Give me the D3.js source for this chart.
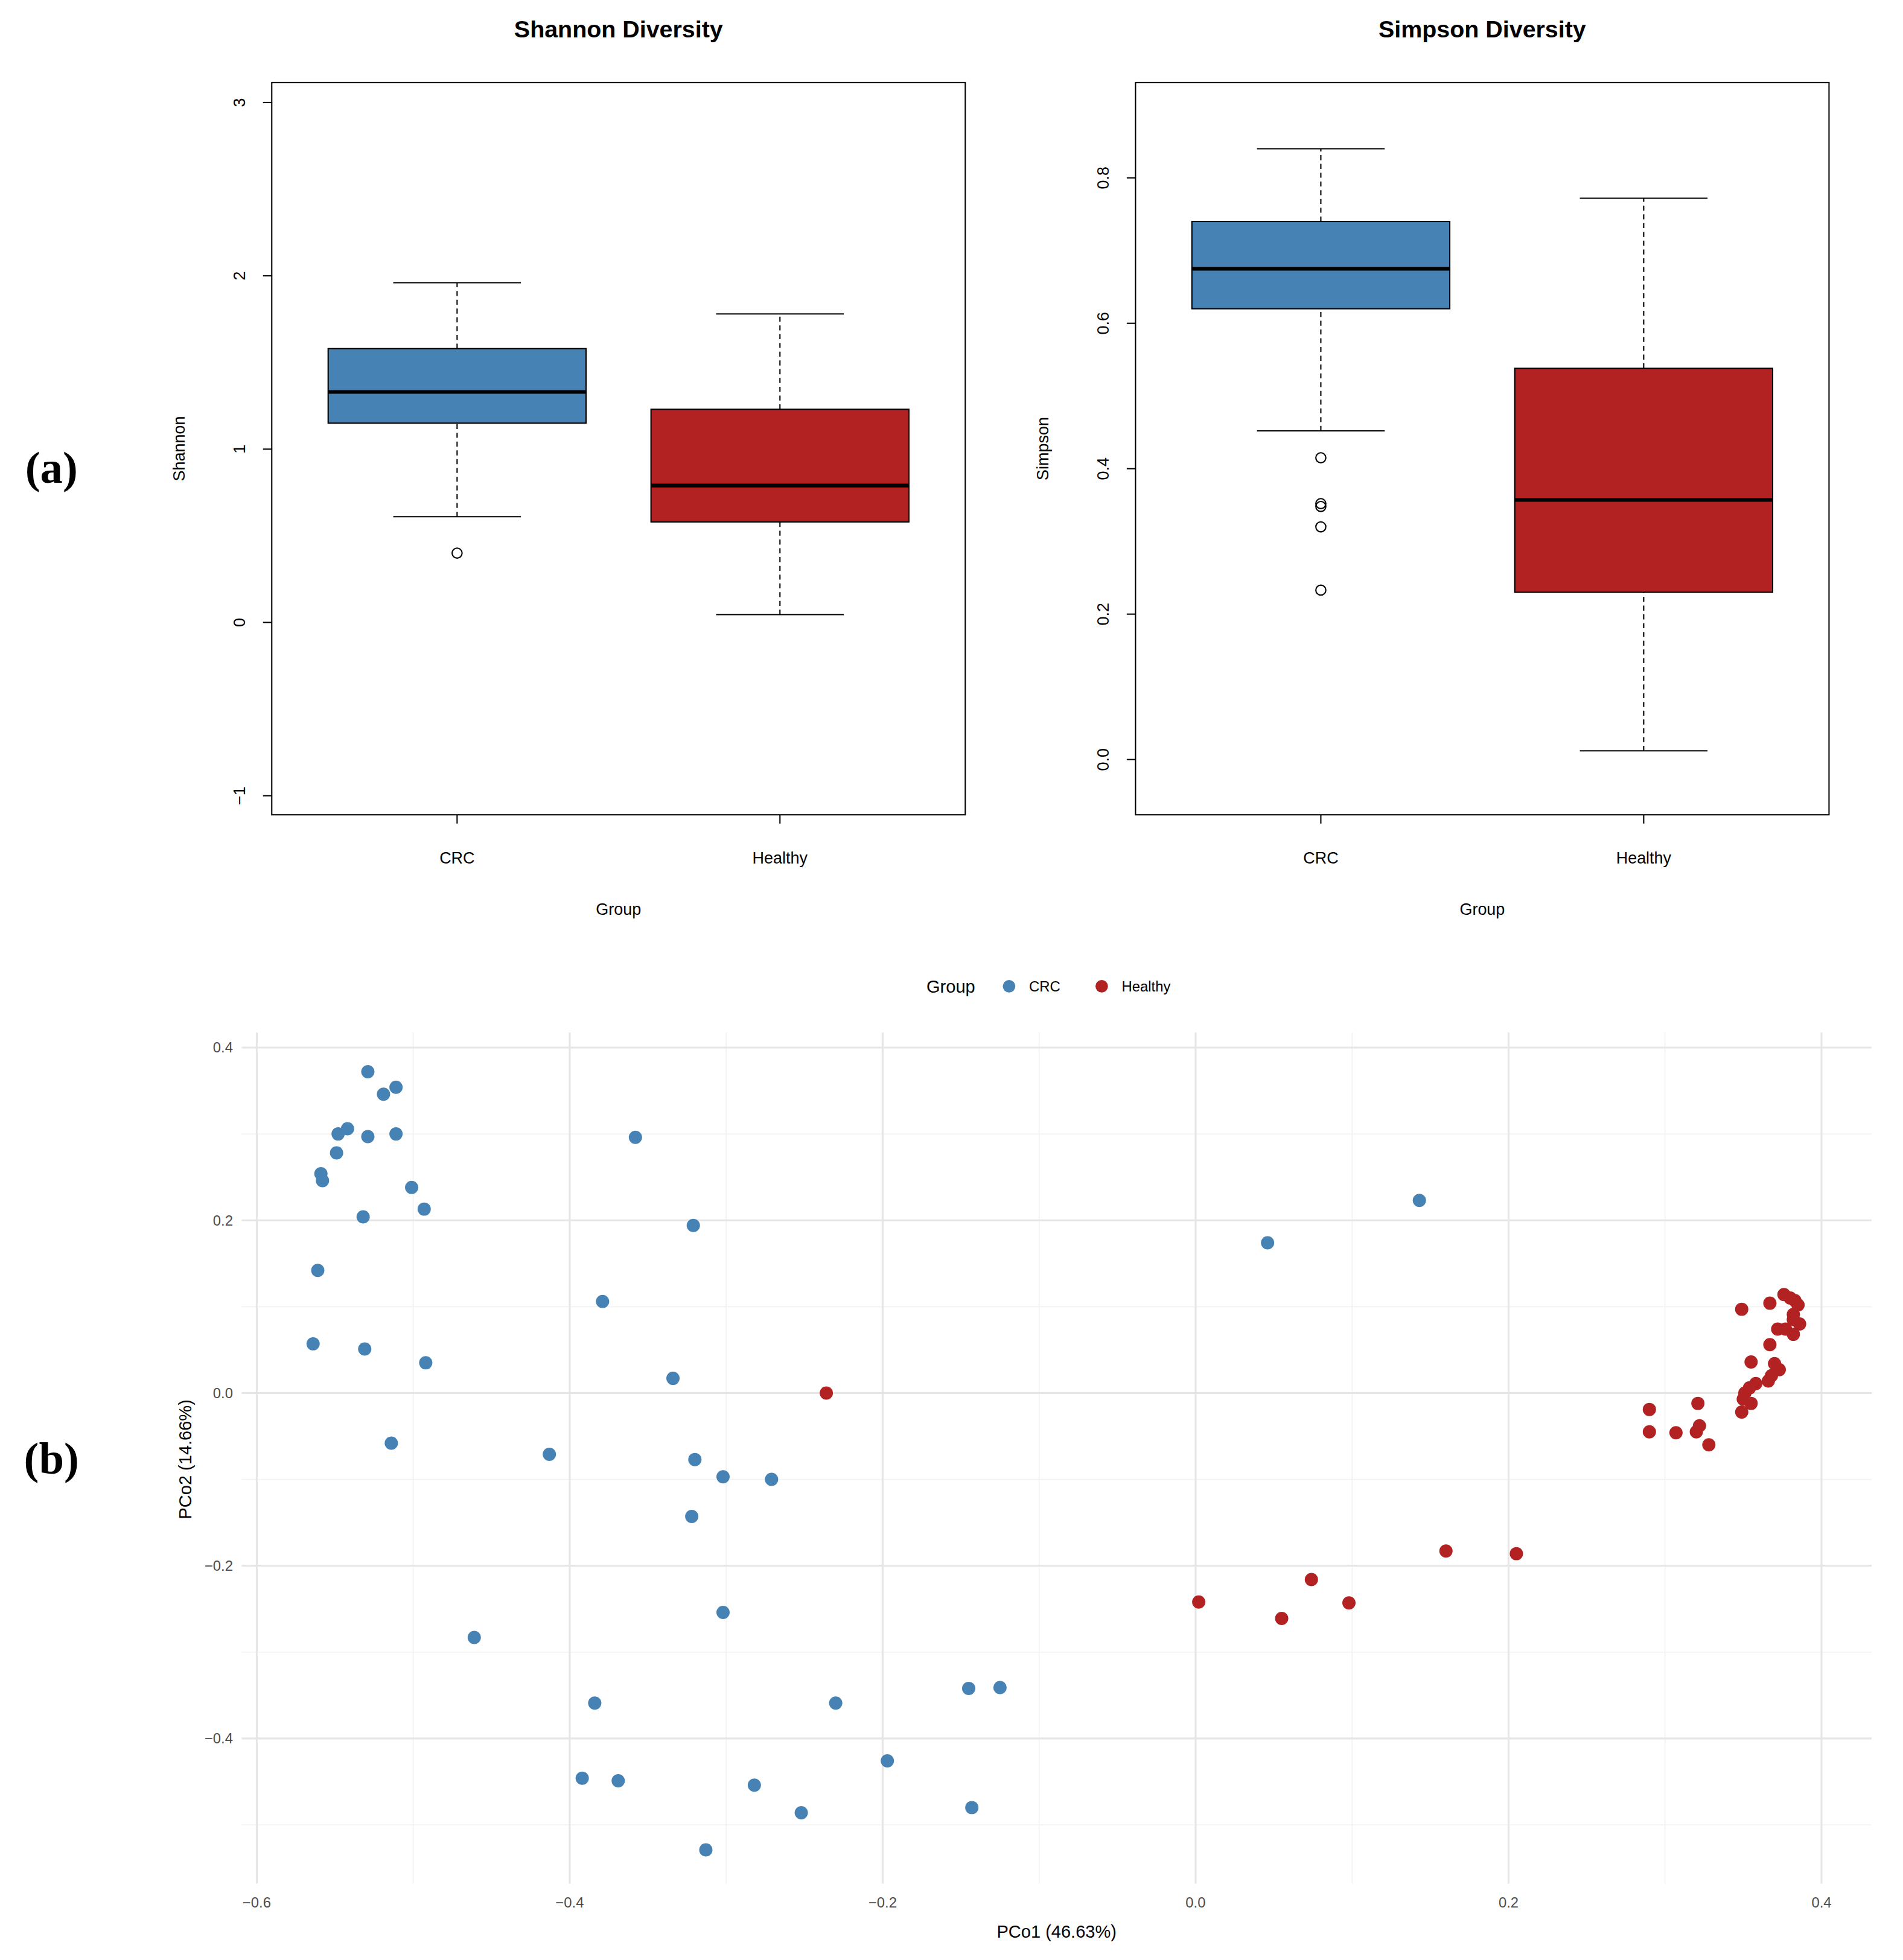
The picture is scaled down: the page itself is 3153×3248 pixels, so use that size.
<!DOCTYPE html>
<html><head><meta charset="utf-8">
<script src="https://cdn.jsdelivr.net/npm/d3@7"></script>
<style>body{margin:0;background:#fff}text{font-family:"Liberation Sans",Arial,sans-serif}</style>
</head><body>
<div id="chart"></div>
<script>
// box plot stats: [lowerWhisker, q1, median, q3, upperWhisker]
const groups = ["CRC", "Healthy"];
const shannonStats = [[0.61, 1.15, 1.33, 1.58, 1.96], [0.045, 0.58, 0.79, 1.23, 1.78]];
const shannonOutliers = [[0.40], []];
const simpsonStats = [[0.452, 0.62, 0.675, 0.74, 0.84], [0.012, 0.23, 0.357, 0.538, 0.772]];
const simpsonOutliers = [[0.415, 0.352, 0.348, 0.32, 0.233], []];
const shannonTicks = [-1, 0, 1, 2, 3];
const simpsonTicks = [0.0, 0.2, 0.4, 0.6, 0.8];

// PCoA points [PCo1, PCo2]
const crcPoints = [
  [-0.529,0.372],[-0.511,0.354],[-0.519,0.346],[-0.542,0.306],[-0.548,0.300],[-0.529,0.297],
  [-0.511,0.300],[-0.549,0.278],[-0.559,0.254],[-0.558,0.246],[-0.501,0.238],[-0.493,0.213],
  [-0.532,0.204],[-0.561,0.142],[-0.564,0.057],[-0.531,0.051],[-0.492,0.035],[-0.514,-0.058],
  [-0.358,0.296],[-0.321,0.194],[-0.379,0.106],[-0.334,0.017],[-0.413,-0.071],[-0.320,-0.077],
  [-0.302,-0.097],[-0.271,-0.100],[-0.322,-0.143],[-0.302,-0.254],[-0.461,-0.283],[-0.384,-0.359],
  [-0.230,-0.359],[-0.145,-0.342],[-0.125,-0.341],[-0.197,-0.426],[-0.392,-0.446],[-0.369,-0.449],
  [-0.282,-0.454],[-0.252,-0.486],[-0.143,-0.480],[-0.313,-0.529],[0.046,0.174],[0.143,0.223]
];
const healthyPoints = [
  [-0.236,0.000],[0.002,-0.242],[0.055,-0.261],[0.074,-0.216],[0.098,-0.243],[0.160,-0.183],[0.205,-0.186],
  [0.349,0.097],[0.367,0.104],[0.376,0.114],[0.380,0.110],[0.383,0.107],[0.385,0.102],[0.382,0.091],
  [0.386,0.080],[0.382,0.085],[0.372,0.074],[0.377,0.074],[0.382,0.068],[0.367,0.056],[0.355,0.036],
  [0.370,0.034],[0.373,0.027],[0.368,0.020],[0.366,0.014],[0.358,0.011],[0.354,0.006],[0.351,0.000],
  [0.350,-0.007],[0.355,-0.012],[0.349,-0.022],[0.321,-0.012],[0.290,-0.019],[0.290,-0.045],
  [0.307,-0.046],[0.322,-0.038],[0.320,-0.045],[0.328,-0.060]
];
const xTicks = [-0.6, -0.4, -0.2, 0.0, 0.2, 0.4];
const yTicks = [-0.4, -0.2, 0.0, 0.2, 0.4];
const colors = {CRC: "#4682B4", Healthy: "#B22222"};

const svg = d3.select("#chart").append("svg")
  .attr("width", 3153).attr("height", 3248)
  .attr("viewBox", "0 0 1520 1566");

function boxPanel(left, title, ylab, stats, outliers, ticks, domain) {
  const right = left + 554, top = 66, bottom = 651;
  const x = d3.scalePoint().domain(groups).range([left, right]).padding(0.574);
  const y = d3.scaleLinear().domain(domain).range([bottom, top]);
  const g = svg.append("g");
  g.append("text").attr("x", (left + right) / 2).attr("y", 30).attr("text-anchor", "middle")
    .attr("font-size", 19).attr("font-weight", "bold").text(title);

  groups.forEach((gr, i) => {
    const s = stats[i], cx = x(gr);
    g.append("line").attr("x1", cx).attr("x2", cx).attr("y1", y(s[0])).attr("y2", y(s[1]))
      .attr("stroke", "#000").attr("stroke-dasharray", "4,3");
    g.append("line").attr("x1", cx).attr("x2", cx).attr("y1", y(s[3])).attr("y2", y(s[4]))
      .attr("stroke", "#000").attr("stroke-dasharray", "4,3");
    [s[0], s[4]].forEach(v => g.append("line").attr("x1", cx - 51).attr("x2", cx + 51)
      .attr("y1", y(v)).attr("y2", y(v)).attr("stroke", "#000"));
    g.append("rect").attr("x", cx - 103).attr("width", 206).attr("y", y(s[3]))
      .attr("height", y(s[1]) - y(s[3])).attr("fill", colors[gr]).attr("stroke", "#000");
    g.append("line").attr("x1", cx - 103).attr("x2", cx + 103).attr("y1", y(s[2])).attr("y2", y(s[2]))
      .attr("stroke", "#000").attr("stroke-width", 3);
    outliers[i].forEach(v => g.append("circle").attr("cx", cx).attr("cy", y(v)).attr("r", 4)
      .attr("fill", "none").attr("stroke", "#000"));
    g.append("line").attr("x1", cx).attr("x2", cx).attr("y1", bottom).attr("y2", bottom + 7).attr("stroke", "#000");
    g.append("text").attr("x", cx).attr("y", 690).attr("text-anchor", "middle").attr("font-size", 13).text(gr);
  });
  g.append("rect").attr("x", left).attr("y", top).attr("width", right - left).attr("height", bottom - top)
    .attr("fill", "none").attr("stroke", "#000");
  ticks.forEach(t => {
    g.append("line").attr("x1", left - 7).attr("x2", left).attr("y1", y(t)).attr("y2", y(t)).attr("stroke", "#000");
    g.append("text").attr("transform", `translate(${left - 26},${y(t)}) rotate(-90)`)
      .attr("text-anchor", "middle").attr("dy", "0.35em").attr("font-size", 13)
      .text(d3.format(domain[1] > 2 ? "d" : ".1f")(t).replace("-", "\u2212"));
  });
  g.append("text").attr("transform", `translate(${left - 74},${(top + bottom) / 2}) rotate(-90)`)
    .attr("text-anchor", "middle").attr("dy", "0.35em").attr("font-size", 13).text(ylab);
  g.append("text").attr("x", (left + right) / 2).attr("y", 731).attr("text-anchor", "middle")
    .attr("font-size", 13).text("Group");
}
boxPanel(217, "Shannon Diversity", "Shannon", shannonStats, shannonOutliers, shannonTicks, [-1.11, 3.115]);
boxPanel(907, "Simpson Diversity", "Simpson", simpsonStats, simpsonOutliers, simpsonTicks, [-0.076, 0.931]);

// panel labels
[["(a)", 373], ["(b)", 1165]].forEach(([t, yy]) => svg.append("text").attr("x", 41).attr("y", yy)
  .attr("text-anchor", "middle").attr("dy", "0.35em").attr("font-size", 36).attr("font-weight", "600")
  .style("font-family", "'Liberation Serif','DejaVu Serif',serif").text(t));

// PCoA
const px = d3.scaleLinear().domain([-0.6, 0.4]).range([205, 1455]);
const py = d3.scaleLinear().domain([-0.4, 0.4]).range([1389, 837]);
const pl = 193, pr = 1495, pt = 825, pb = 1505;
const grid = svg.append("g");
d3.range(-0.5, 0.45, 0.2).forEach(v => grid.append("line").attr("x1", px(v)).attr("x2", px(v))
  .attr("y1", pt).attr("y2", pb).attr("stroke", "#f2f2f2").attr("stroke-width", 0.8));
d3.range(-0.5, 0.35, 0.2).forEach(v => grid.append("line").attr("y1", py(v)).attr("y2", py(v))
  .attr("x1", pl).attr("x2", pr).attr("stroke", "#f2f2f2").attr("stroke-width", 0.8));
xTicks.forEach(v => grid.append("line").attr("x1", px(v)).attr("x2", px(v))
  .attr("y1", pt).attr("y2", pb).attr("stroke", "#e6e6e6").attr("stroke-width", 1.5));
yTicks.forEach(v => grid.append("line").attr("y1", py(v)).attr("y2", py(v))
  .attr("x1", pl).attr("x2", pr).attr("stroke", "#e6e6e6").attr("stroke-width", 1.5));

xTicks.forEach(v => svg.append("text").attr("x", px(v)).attr("y", 1524).attr("text-anchor", "middle")
  .attr("font-size", 11.5).attr("fill", "#4d4d4d").text(d3.format(".1f")(v).replace("-", "\u2212")));
yTicks.forEach(v => svg.append("text").attr("x", 186).attr("y", py(v)).attr("dy", "0.35em")
  .attr("text-anchor", "end").attr("font-size", 11.5).attr("fill", "#4d4d4d")
  .text(d3.format(".1f")(v).replace("-", "\u2212")));
svg.append("text").attr("x", 844).attr("y", 1548).attr("text-anchor", "middle").attr("font-size", 14).text("PCo1 (46.63%)");
svg.append("text").attr("transform", "translate(148,1166) rotate(-90)").attr("text-anchor", "middle")
  .attr("dy", "0.35em").attr("font-size", 14).text("PCo2 (14.66%)");

svg.append("g").selectAll("circle").data(crcPoints).join("circle")
  .attr("cx", d => px(d[0])).attr("cy", d => py(d[1])).attr("r", 5.3).attr("fill", colors.CRC);
svg.append("g").selectAll("circle").data(healthyPoints).join("circle")
  .attr("cx", d => px(d[0])).attr("cy", d => py(d[1])).attr("r", 5.3).attr("fill", colors.Healthy);

// legend
svg.append("text").attr("x", 740).attr("y", 788).attr("dy", "0.35em").attr("font-size", 14).text("Group");
[["CRC", 806], ["Healthy", 880]].forEach(([g, lx]) => {
  svg.append("circle").attr("cx", lx).attr("cy", 788).attr("r", 5).attr("fill", colors[g]);
  svg.append("text").attr("x", lx + 16).attr("y", 788).attr("dy", "0.35em").attr("font-size", 11.5).text(g);
});
</script>
</body></html>
